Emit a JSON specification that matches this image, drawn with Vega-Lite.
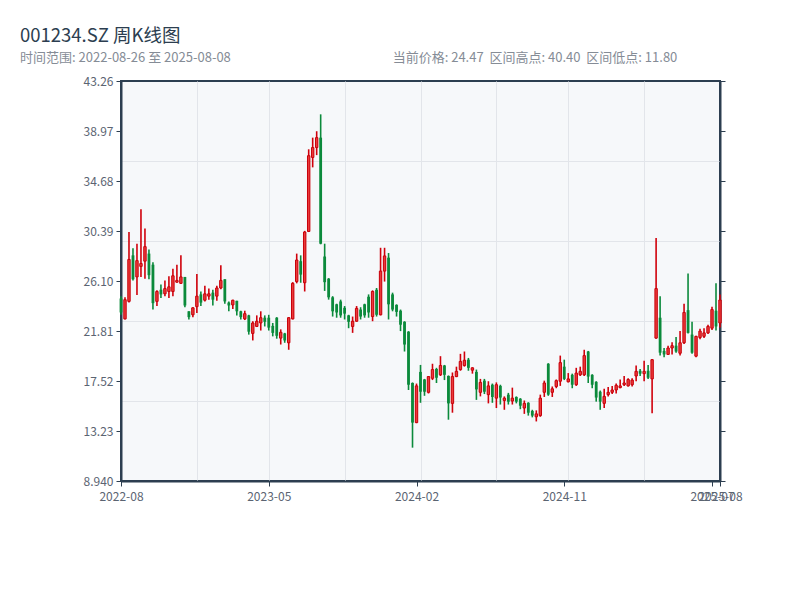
{
  "$schema": "https://vega.github.io/schema/vega-lite/v6.json",
  "autosize": "none",
  "width": 599,
  "height": 400,
  "padding": {"left": 121, "top": 81, "right": 80, "bottom": 119},
  "background": "white",
  "config": {
    "font": "Noto Sans CJK SC",
    "view": {"fill": "#f6f8fa", "stroke": "#2c3e50", "strokeWidth": 2},
    "axis": {
      "labelFont": "Noto Sans CJK SC",
      "labelColor": "#5b6472",
      "labelFontSize": 12,
      "domainColor": "#2c3e50",
      "domainWidth": 2,
      "tickColor": "#2c3e50",
      "tickWidth": 1,
      "tickSize": 5,
      "gridColor": "#e2e5ea",
      "gridWidth": 1,
      "title": null
    }
  },
  "title": {
    "text": "001234.SZ 周K线图",
    "subtitle": "时间范围: 2022-08-26 至 2025-08-08\u3000\u3000\u3000\u3000\u3000\u3000\u3000\u3000\u3000\u3000\u3000\u3000\u00a0\u00a0当前价格: 24.47\u00a0\u00a0区间高点: 40.40\u00a0\u00a0区间低点: 11.80",
    "anchor": "start",
    "frame": "group",
    "dx": -101,
    "offset": 10,
    "font": "Noto Sans CJK SC",
    "fontSize": 18.5,
    "fontWeight": "normal",
    "color": "#2c3e50",
    "subtitleFont": "Noto Sans CJK SC",
    "subtitleFontSize": 13,
    "subtitleColor": "#858c96",
    "subtitlePadding": 7
  },
  "data": {"values": [
    {"date":"2022-08-26","open":24.60,"high":24.80,"low":23.20,"close":23.40},
    {"date":"2022-09-02","open":22.85,"high":24.70,"low":22.80,"close":24.50},
    {"date":"2022-09-09","open":24.35,"high":30.30,"low":24.25,"close":27.95},
    {"date":"2022-09-16","open":28.30,"high":28.90,"low":26.15,"close":26.25},
    {"date":"2022-09-23","open":26.45,"high":29.30,"low":24.90,"close":27.85},
    {"date":"2022-09-30","open":27.35,"high":32.25,"low":26.45,"close":27.60},
    {"date":"2022-10-14","open":27.80,"high":30.60,"low":26.30,"close":29.05},
    {"date":"2022-10-21","open":28.45,"high":28.80,"low":26.25,"close":26.60},
    {"date":"2022-10-28","open":27.50,"high":27.70,"low":23.65,"close":24.20},
    {"date":"2022-11-04","open":24.35,"high":25.30,"low":23.95,"close":25.20},
    {"date":"2022-11-11","open":25.35,"high":25.80,"low":24.65,"close":24.95},
    {"date":"2022-11-18","open":25.00,"high":26.15,"low":24.80,"close":25.45},
    {"date":"2022-11-25","open":25.20,"high":26.50,"low":24.65,"close":25.60},
    {"date":"2022-12-02","open":25.20,"high":27.15,"low":24.80,"close":26.55},
    {"date":"2022-12-09","open":26.00,"high":27.50,"low":25.95,"close":26.15},
    {"date":"2022-12-16","open":25.90,"high":28.30,"low":25.85,"close":26.45},
    {"date":"2022-12-23","open":26.45,"high":26.45,"low":23.85,"close":24.00},
    {"date":"2022-12-30","open":23.50,"high":23.50,"low":22.80,"close":23.00},
    {"date":"2023-01-06","open":23.20,"high":23.85,"low":23.00,"close":23.80},
    {"date":"2023-01-13","open":23.90,"high":26.70,"low":23.35,"close":24.80},
    {"date":"2023-01-20","open":24.95,"high":25.20,"low":23.95,"close":24.25},
    {"date":"2023-02-03","open":24.45,"high":25.70,"low":24.35,"close":25.00},
    {"date":"2023-02-10","open":24.80,"high":25.45,"low":24.50,"close":25.00},
    {"date":"2023-02-17","open":25.10,"high":25.35,"low":24.00,"close":24.50},
    {"date":"2023-02-24","open":24.80,"high":25.70,"low":24.40,"close":25.50},
    {"date":"2023-03-03","open":25.50,"high":27.45,"low":25.40,"close":26.15},
    {"date":"2023-03-10","open":26.25,"high":26.25,"low":24.15,"close":24.35},
    {"date":"2023-03-17","open":24.25,"high":24.35,"low":23.50,"close":24.00},
    {"date":"2023-03-24","open":24.05,"high":24.50,"low":23.70,"close":24.45},
    {"date":"2023-03-31","open":24.40,"high":24.40,"low":23.15,"close":23.50},
    {"date":"2023-04-07","open":23.50,"high":23.55,"low":22.80,"close":23.00},
    {"date":"2023-04-14","open":22.85,"high":23.55,"low":22.75,"close":23.30},
    {"date":"2023-04-21","open":23.15,"high":23.20,"low":21.50,"close":21.75},
    {"date":"2023-04-28","open":21.60,"high":22.65,"low":21.00,"close":22.50},
    {"date":"2023-05-05","open":22.20,"high":23.15,"low":22.15,"close":22.65},
    {"date":"2023-05-12","open":22.50,"high":23.50,"low":21.85,"close":22.95},
    {"date":"2023-05-19","open":22.95,"high":23.15,"low":22.20,"close":22.60},
    {"date":"2023-05-26","open":22.95,"high":23.20,"low":21.85,"close":22.10},
    {"date":"2023-06-02","open":22.25,"high":22.50,"low":21.35,"close":21.65},
    {"date":"2023-06-09","open":22.95,"high":23.00,"low":21.15,"close":21.40},
    {"date":"2023-06-16","open":21.20,"high":21.95,"low":20.65,"close":21.70},
    {"date":"2023-06-23","open":21.60,"high":21.65,"low":20.80,"close":21.00},
    {"date":"2023-06-30","open":20.80,"high":23.00,"low":20.20,"close":22.95},
    {"date":"2023-07-07","open":22.85,"high":26.00,"low":22.80,"close":25.90},
    {"date":"2023-07-14","open":26.05,"high":28.45,"low":25.90,"close":27.90},
    {"date":"2023-07-21","open":27.80,"high":28.30,"low":25.95,"close":26.65},
    {"date":"2023-07-28","open":25.95,"high":30.40,"low":25.20,"close":30.30},
    {"date":"2023-08-04","open":30.35,"high":37.40,"low":30.30,"close":36.85},
    {"date":"2023-08-11","open":36.70,"high":38.40,"low":35.85,"close":37.55},
    {"date":"2023-08-18","open":37.55,"high":38.95,"low":36.90,"close":38.40},
    {"date":"2023-08-25","open":38.40,"high":40.40,"low":29.25,"close":29.30},
    {"date":"2023-09-01","open":28.20,"high":29.30,"low":25.25,"close":26.00},
    {"date":"2023-09-08","open":26.30,"high":26.35,"low":24.50,"close":24.70},
    {"date":"2023-09-15","open":24.70,"high":24.80,"low":23.05,"close":23.50},
    {"date":"2023-09-22","open":24.10,"high":24.15,"low":22.95,"close":23.40},
    {"date":"2023-09-29","open":24.35,"high":24.50,"low":22.95,"close":23.15},
    {"date":"2023-10-13","open":23.80,"high":23.95,"low":22.80,"close":23.30},
    {"date":"2023-10-20","open":23.15,"high":23.20,"low":22.05,"close":22.60},
    {"date":"2023-10-27","open":22.20,"high":23.05,"low":21.65,"close":22.65},
    {"date":"2023-11-03","open":22.65,"high":23.95,"low":22.60,"close":23.75},
    {"date":"2023-11-10","open":23.65,"high":23.85,"low":22.80,"close":23.05},
    {"date":"2023-11-17","open":24.10,"high":24.15,"low":22.95,"close":23.15},
    {"date":"2023-11-24","open":24.75,"high":24.95,"low":22.95,"close":23.40},
    {"date":"2023-12-01","open":23.05,"high":25.30,"low":22.65,"close":25.20},
    {"date":"2023-12-08","open":25.35,"high":25.50,"low":23.05,"close":23.20},
    {"date":"2023-12-15","open":23.20,"high":28.95,"low":23.15,"close":26.95},
    {"date":"2023-12-22","open":26.95,"high":28.95,"low":26.05,"close":28.25},
    {"date":"2023-12-29","open":28.10,"high":28.50,"low":22.80,"close":24.10},
    {"date":"2024-01-05","open":24.95,"high":25.10,"low":23.50,"close":23.65},
    {"date":"2024-01-12","open":24.05,"high":24.10,"low":23.05,"close":23.45},
    {"date":"2024-01-19","open":23.55,"high":23.65,"low":21.80,"close":22.35},
    {"date":"2024-01-26","open":22.60,"high":22.65,"low":20.05,"close":20.65},
    {"date":"2024-02-02","open":21.75,"high":21.80,"low":16.75,"close":17.20},
    {"date":"2024-02-09","open":17.35,"high":17.40,"low":11.80,"close":13.95},
    {"date":"2024-02-23","open":13.95,"high":17.30,"low":13.90,"close":17.10},
    {"date":"2024-03-01","open":18.30,"high":18.90,"low":15.65,"close":16.60},
    {"date":"2024-03-08","open":17.65,"high":17.70,"low":16.25,"close":16.60},
    {"date":"2024-03-15","open":16.55,"high":17.95,"low":16.45,"close":17.90},
    {"date":"2024-03-22","open":17.75,"high":19.00,"low":17.60,"close":18.50},
    {"date":"2024-03-29","open":18.55,"high":18.65,"low":17.35,"close":17.80},
    {"date":"2024-04-05","open":18.05,"high":19.65,"low":17.95,"close":18.85},
    {"date":"2024-04-12","open":18.85,"high":18.90,"low":17.60,"close":18.05},
    {"date":"2024-04-19","open":17.95,"high":18.00,"low":14.20,"close":15.60},
    {"date":"2024-04-26","open":15.60,"high":18.25,"low":14.80,"close":17.90},
    {"date":"2024-05-03","open":17.90,"high":18.75,"low":17.85,"close":18.35},
    {"date":"2024-05-10","open":18.50,"high":19.85,"low":18.40,"close":19.20},
    {"date":"2024-05-17","open":18.85,"high":20.05,"low":18.75,"close":19.30},
    {"date":"2024-05-24","open":19.35,"high":19.50,"low":18.40,"close":18.65},
    {"date":"2024-05-31","open":18.45,"high":18.70,"low":18.15,"close":18.65},
    {"date":"2024-06-07","open":18.30,"high":18.50,"low":15.90,"close":16.80},
    {"date":"2024-06-14","open":16.55,"high":17.70,"low":16.20,"close":17.40},
    {"date":"2024-06-21","open":17.55,"high":17.70,"low":16.40,"close":16.60},
    {"date":"2024-06-28","open":16.35,"high":17.50,"low":15.60,"close":17.10},
    {"date":"2024-07-05","open":17.20,"high":17.30,"low":15.65,"close":16.15},
    {"date":"2024-07-12","open":16.05,"high":17.40,"low":15.20,"close":17.20},
    {"date":"2024-07-19","open":17.10,"high":17.20,"low":15.50,"close":16.10},
    {"date":"2024-07-26","open":15.85,"high":16.20,"low":15.05,"close":16.05},
    {"date":"2024-08-02","open":16.35,"high":16.50,"low":15.50,"close":15.75},
    {"date":"2024-08-09","open":15.80,"high":16.95,"low":15.50,"close":16.05},
    {"date":"2024-08-16","open":16.15,"high":16.20,"low":15.60,"close":15.75},
    {"date":"2024-08-23","open":16.00,"high":16.05,"low":15.10,"close":15.40},
    {"date":"2024-08-30","open":15.20,"high":15.85,"low":14.70,"close":15.60},
    {"date":"2024-09-06","open":15.65,"high":15.70,"low":14.55,"close":14.80},
    {"date":"2024-09-13","open":14.95,"high":15.05,"low":14.40,"close":14.55},
    {"date":"2024-09-20","open":14.45,"high":15.00,"low":14.05,"close":14.70},
    {"date":"2024-09-27","open":14.55,"high":16.35,"low":14.45,"close":16.05},
    {"date":"2024-10-04","open":16.55,"high":17.55,"low":16.15,"close":17.35},
    {"date":"2024-10-11","open":19.00,"high":19.05,"low":16.25,"close":16.35},
    {"date":"2024-10-18","open":16.55,"high":17.05,"low":16.15,"close":16.85},
    {"date":"2024-10-25","open":17.05,"high":17.65,"low":16.90,"close":17.55},
    {"date":"2024-11-01","open":17.50,"high":19.70,"low":17.10,"close":19.10},
    {"date":"2024-11-08","open":18.75,"high":19.35,"low":17.60,"close":17.70},
    {"date":"2024-11-15","open":17.45,"high":18.20,"low":17.40,"close":17.70},
    {"date":"2024-11-22","open":18.05,"high":18.15,"low":16.90,"close":17.20},
    {"date":"2024-11-29","open":17.20,"high":18.65,"low":17.10,"close":18.20},
    {"date":"2024-12-06","open":18.05,"high":18.75,"low":17.95,"close":18.35},
    {"date":"2024-12-13","open":18.05,"high":20.20,"low":17.95,"close":19.70},
    {"date":"2024-12-20","open":20.05,"high":20.10,"low":17.35,"close":17.90},
    {"date":"2024-12-27","open":18.05,"high":18.10,"low":16.90,"close":17.20},
    {"date":"2025-01-03","open":17.45,"high":17.50,"low":15.75,"close":16.10},
    {"date":"2025-01-10","open":16.60,"high":16.70,"low":15.05,"close":15.75},
    {"date":"2025-01-17","open":15.60,"high":16.85,"low":15.20,"close":16.20},
    {"date":"2025-01-24","open":16.35,"high":17.00,"low":16.20,"close":16.55},
    {"date":"2025-01-31","open":16.55,"high":17.10,"low":16.40,"close":16.75},
    {"date":"2025-02-07","open":16.75,"high":17.30,"low":16.45,"close":17.15},
    {"date":"2025-02-14","open":16.95,"high":17.65,"low":16.90,"close":17.10},
    {"date":"2025-02-21","open":17.20,"high":17.95,"low":17.10,"close":17.35},
    {"date":"2025-02-28","open":17.10,"high":17.75,"low":17.05,"close":17.65},
    {"date":"2025-03-07","open":17.20,"high":17.75,"low":17.05,"close":17.60},
    {"date":"2025-03-14","open":17.95,"high":18.85,"low":17.50,"close":18.35},
    {"date":"2025-03-21","open":18.40,"high":18.55,"low":17.95,"close":18.15},
    {"date":"2025-03-28","open":18.15,"high":19.25,"low":17.50,"close":18.35},
    {"date":"2025-04-04","open":18.40,"high":18.90,"low":17.70,"close":17.80},
    {"date":"2025-04-11","open":17.70,"high":19.40,"low":14.75,"close":19.35},
    {"date":"2025-04-18","open":21.20,"high":29.80,"low":21.15,"close":25.45},
    {"date":"2025-04-25","open":22.95,"high":24.80,"low":19.70,"close":19.95},
    {"date":"2025-05-02","open":20.10,"high":20.35,"low":19.55,"close":19.80},
    {"date":"2025-05-09","open":19.80,"high":20.55,"low":19.75,"close":20.35},
    {"date":"2025-05-16","open":20.35,"high":20.85,"low":19.80,"close":20.55},
    {"date":"2025-05-23","open":20.55,"high":21.30,"low":19.95,"close":20.05},
    {"date":"2025-05-30","open":19.90,"high":21.80,"low":19.70,"close":20.80},
    {"date":"2025-06-06","open":20.80,"high":24.15,"low":20.70,"close":23.40},
    {"date":"2025-06-13","open":23.60,"high":26.75,"low":21.60,"close":21.65},
    {"date":"2025-06-20","open":21.50,"high":22.60,"low":19.85,"close":19.95},
    {"date":"2025-06-27","open":19.65,"high":21.40,"low":19.55,"close":21.35},
    {"date":"2025-07-04","open":21.25,"high":22.00,"low":21.10,"close":21.80},
    {"date":"2025-07-11","open":21.35,"high":22.05,"low":21.20,"close":21.65},
    {"date":"2025-07-18","open":21.65,"high":22.35,"low":21.55,"close":22.20},
    {"date":"2025-07-25","open":22.05,"high":23.90,"low":21.90,"close":23.65},
    {"date":"2025-08-01","open":23.55,"high":25.90,"low":21.85,"close":22.20},
    {"date":"2025-08-08","open":22.50,"high":24.95,"low":22.10,"close":24.47}
  ]},
  "layer": [
    {
      "mark": {"type": "rule", "strokeWidth": 1.6},
      "encoding": {
        "x": {
          "field": "date", "type": "ordinal",
          "scale": {"type": "point", "padding": 0},
          "axis": {
            "orient": "bottom",
            "values": ["2022-08-26", "2023-05-26", "2024-02-23", "2024-11-08", "2025-07-25", "2025-08-08"],
            "labelExpr": "slice(datum.value, 0, 7)",
            "labelAngle": 0,
            "labelOverlap": false,
            "labelPadding": 5,
            "grid": false
          }
        },
        "y": {
          "field": "low", "type": "quantitative",
          "scale": {"domain": [8.94, 43.26], "nice": false, "zero": false},
          "axis": {
            "orient": "left",
            "values": [8.94, 13.23, 17.52, 21.81, 26.1, 30.39, 34.68, 38.97, 43.26],
            "format": ".4r",
            "grid": false,
            "labelPadding": 3
          }
        },
        "y2": {"field": "high"},
        "color": {
          "condition": {"test": "datum.close >= datum.open", "value": "#d0000b"},
          "value": "#0b8a3b"
        }
      }
    },
    {
      "transform": [{"filter": "datum.close < datum.open"}],
      "mark": {"type": "bar", "size": 2.8, "color": "#0b8a3b"},
      "encoding": {
        "x": {
          "field": "date", "type": "ordinal",
          "scale": {"type": "point", "padding": 0},
          "axis": {
            "orient": "bottom",
            "values": ["2023-01-13", "2023-05-26", "2023-10-13", "2024-03-01", "2024-07-12", "2024-11-15", "2025-03-28"],
            "grid": true,
            "labels": false,
            "ticks": false,
            "domain": false
          }
        },
        "y": {
          "field": "open", "type": "quantitative",
          "scale": {"domain": [8.94, 43.26], "nice": false, "zero": false},
          "axis": {
            "orient": "right",
            "values": [8.94, 13.23, 17.52, 21.81, 26.1, 30.39, 34.68, 38.97, 43.26],
            "labels": false,
            "grid": false
          }
        },
        "y2": {"field": "close"}
      }
    },
    {
      "transform": [{"filter": "datum.close >= datum.open"}],
      "mark": {"type": "bar", "size": 2.4, "fill": "#ea3a3a", "stroke": "#c8000a", "strokeWidth": 1},
      "encoding": {
        "x": {
          "field": "date", "type": "ordinal",
          "scale": {"type": "point", "padding": 0},
          "axis": null
        },
        "y": {
          "field": "open", "type": "quantitative",
          "scale": {"domain": [8.94, 43.26], "nice": false, "zero": false},
          "axis": {
            "orient": "left",
            "values": [15.804, 22.668, 29.532, 36.396],
            "grid": true,
            "labels": false,
            "ticks": false,
            "domain": false
          }
        },
        "y2": {"field": "close"}
      }
    }
  ],
  "resolve": {"axis": {"x": "independent", "y": "independent"}}
}
